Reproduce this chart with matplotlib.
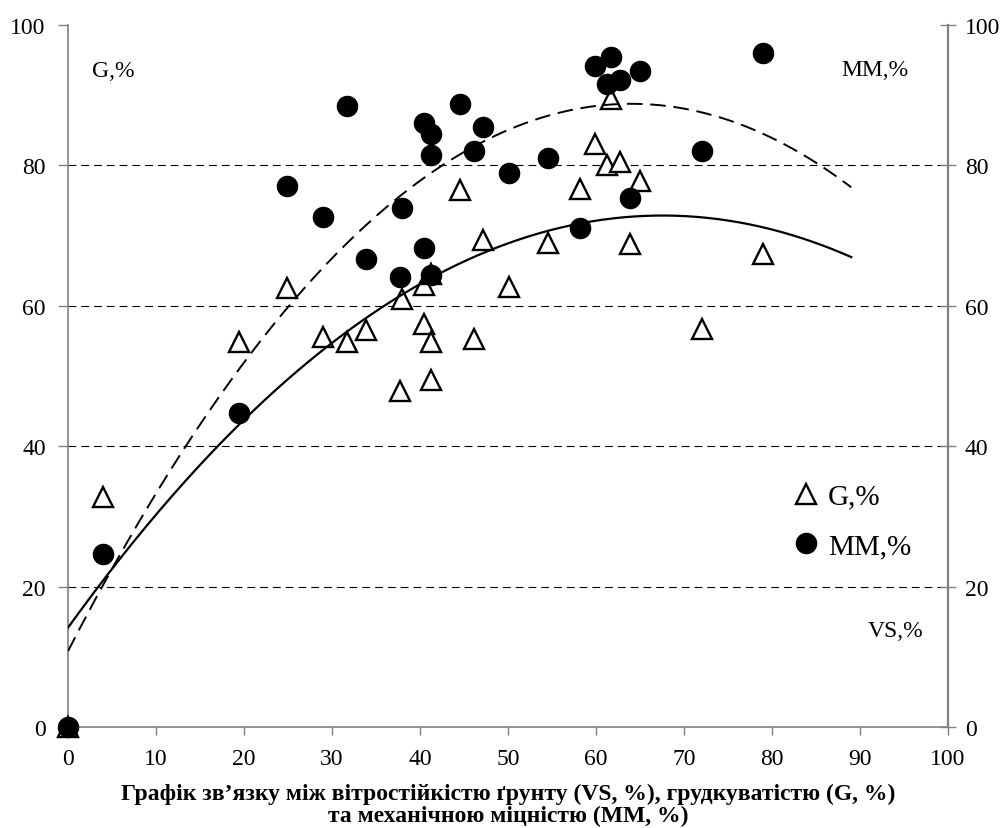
import numpy as np
import matplotlib
matplotlib.use('Agg')
import matplotlib.pyplot as plt

plt.rcParams['font.family'] = ['Liberation Serif', 'DejaVu Serif']

# VS,% (x) with G,% and MM,%
vs = [0, 4.0, 19.4, 24.9, 29.0, 31.7, 33.9, 37.7, 38.0, 40.4, 40.4, 41.3, 41.3, 41.3,
      44.6, 46.1, 47.2, 50.1, 54.6, 58.2, 59.9, 61.3, 61.7, 62.7, 63.9, 65.0, 72.0, 79.0]
g = [0, 32.8, 54.8, 62.5, 55.5, 54.8, 56.5, 47.9, 61.0, 63.0, 57.4, 54.8, 49.5, 64.5,
     76.5, 55.3, 69.4, 62.7, 69.0, 76.6, 83.0, 80.0, 89.5, 80.5, 68.8, 77.8, 56.7, 67.4]
mm = [0, 24.6, 44.8, 77.1, 72.7, 88.5, 66.6, 64.1, 73.9, 86.1, 68.2, 84.5, 81.5, 64.4,
      88.7, 82.0, 85.4, 78.9, 81.1, 71.1, 94.1, 91.6, 95.5, 92.2, 75.4, 93.4, 82.0, 96.0]

fig = plt.figure(figsize=(10.03, 8.29), dpi=100)
ax = fig.add_axes([68/1003, 1-728/829, 880/1003, 702/829])

ax.set_xlim(0, 100)
ax.set_ylim(0, 100)

for yv in [20, 40, 60, 80]:
    ax.axhline(yv, color='black', lw=0.8, dashes=(7, 4.5), zorder=1)

ax.plot(vs, g, '^', ms=15, mfc='white', mec='black', mew=1.7, clip_on=False, zorder=3, label='G,%')
ax.plot(vs, mm, 'o', ms=14.5, mfc='black', mec='black', clip_on=False, zorder=4, label='MM,%')

# polynomial (2nd order) trend lines, extended 10 units forward like Excel
xt = np.linspace(0, max(vs) + 10, 300)
cg = np.polyfit(vs, g, 2)
cm = np.polyfit(vs, mm, 2)
ax.plot(xt, np.polyval(cg, xt), color='black', lw=1.6, zorder=5)
ax.plot(xt, np.polyval(cm, xt), color='black', lw=1.4, dashes=(8, 4), zorder=5)

ax.set_xticks(range(0, 101, 10))
ax.set_yticks(range(0, 101, 20))
ax.tick_params(axis='both', labelsize=17, colors='black')
ax.tick_params(axis='x', direction='out', length=6, width=1, color='#808080', pad=9)
ax.tick_params(axis='y', direction='out', length=7, width=1, color='#808080', pad=9)
for s in ['top', 'right']:
    ax.spines[s].set_visible(False)
for s in ['left', 'bottom']:
    ax.spines[s].set_color('#808080')
    ax.spines[s].set_linewidth(1.2)

ax2 = ax.twinx()
ax2.set_ylim(0, 100)
ax2.set_yticks(range(0, 101, 20))
ax2.tick_params(axis='y', direction='inout', length=12, width=1, color='#808080', labelsize=17, pad=6)
for s in ['top', 'left', 'bottom']:
    ax2.spines[s].set_visible(False)
ax2.spines['right'].set_color('#808080')
ax2.spines['right'].set_linewidth(1.6)

ax.text(0.027, 0.935, 'G,%', transform=ax.transAxes, fontsize=17, va='center', ha='left')
ax.text(0.955, 0.937, 'MM,%', transform=ax.transAxes, fontsize=17, va='center', ha='right')
ax.text(0.972, 0.137, 'VS,%', transform=ax.transAxes, fontsize=17, va='center', ha='right')

ax.legend(loc='upper left', bbox_to_anchor=(0.822, 0.347), frameon=False, fontsize=21,
          handletextpad=0.25, labelspacing=0.78, handlelength=1.0, borderpad=0, borderaxespad=0)

fig.text(508/1003, 1-794/829, 'Графік зв’язку між вітростійкістю ґрунту (VS, %), грудкуватістю (G, %)',
         ha='center', va='center', fontsize=17, fontweight='bold')
fig.text(508/1003, 1-816/829, 'та механічною міцністю (MM, %)',
         ha='center', va='center', fontsize=17, fontweight='bold')

fig.savefig('out.png', dpi=100)
